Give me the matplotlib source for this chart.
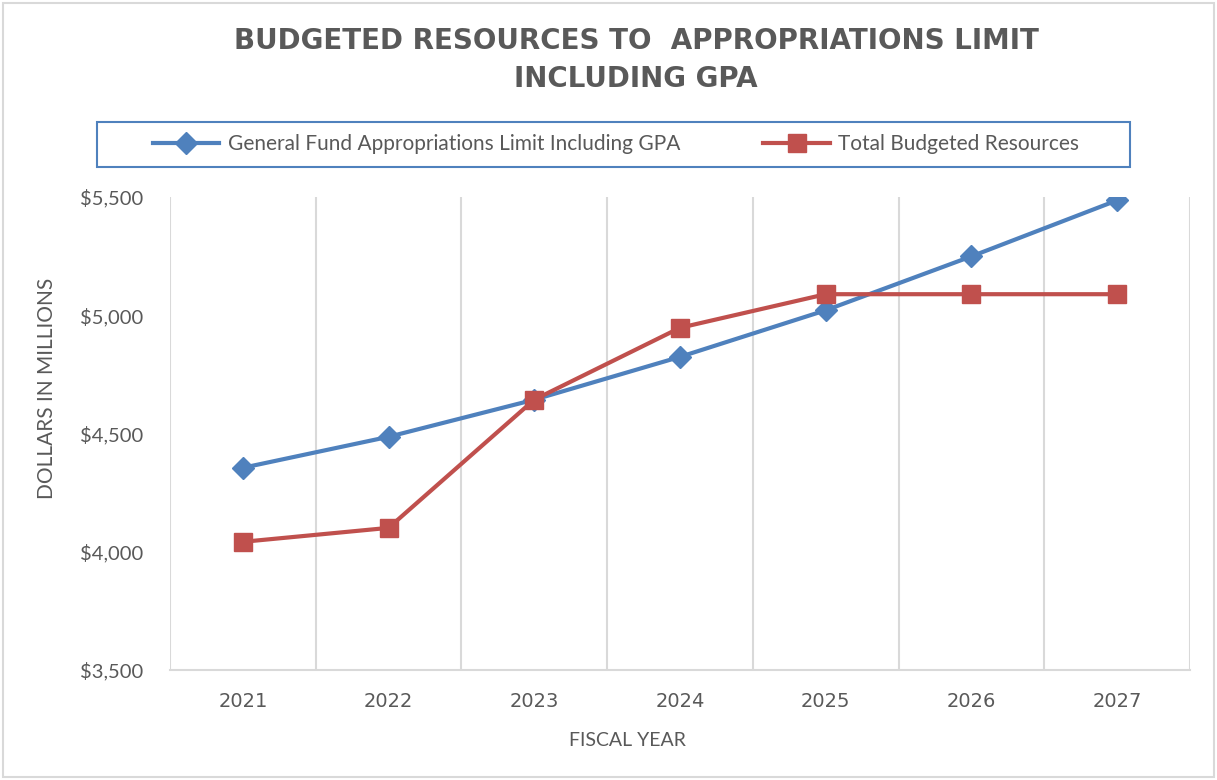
import matplotlib
matplotlib.use("Agg")
import matplotlib.pyplot as plt
from matplotlib.patches import Rectangle

years = ["2021", "2022", "2023", "2024", "2025", "2026", "2027"]
limit_gpa = [4355, 4486, 4643, 4824, 5021, 5249, 5486]
budgeted = [4042, 4101, 4643, 4947, 5089, 5089, 5089]
yticks = [3500, 4000, 4500, 5000, 5500]

blue = "#4F81BD"
red = "#C0504D"
grey_text = "#595959"
grid = "#D9D9D9"

fig = plt.figure(figsize=(12.17, 7.8), dpi=100)
ax = fig.add_axes([170/1217, 1-670/780, (1190-170)/1217, (670-197)/780])

x = list(range(len(years)))
ax.plot(x, limit_gpa, color=blue, lw=3.0, marker="D", ms=11,
        label="General Fund Appropriations Limit Including GPA")
ax.plot(x, budgeted, color=red, lw=3.0, marker="s", ms=12.5,
        label="Total Budgeted Resources")

ax.set_xlim(-0.5, len(years)-0.5)
ax.set_ylim(3500, 5500)
ax.set_yticks(yticks)
ax.set_yticklabels([f"${v:,}" for v in yticks], fontsize=14.5, color=grey_text, family="Lato")
ax.set_xticks(x)
ax.set_xticklabels(years, fontsize=14, color=grey_text, family="DejaVu Sans")
for b in [i + 0.5 for i in range(-1, len(years))]:
    ax.axvline(b, color=grid, lw=1.5, zorder=0)
ax.tick_params(length=0)
ax.tick_params(axis="x", pad=16)
ax.tick_params(axis="y", pad=19)
for s in ["top", "right", "left"]:
    ax.spines[s].set_visible(False)
ax.spines["bottom"].set_color(grid)
ax.spines["bottom"].set_linewidth(1.5)

ax.set_xlabel("FISCAL YEAR", fontsize=14, color=grey_text, family="Lato")
ax.xaxis.set_label_coords((627-170)/1020, (670-740)/473)
ax.xaxis.label.set_va("center")
ax.set_ylabel("DOLLARS IN MILLIONS", fontsize=15, color=grey_text, family="Lato")
ax.yaxis.set_label_coords((47-170)/1020, (670-388)/473)
ax.yaxis.label.set_va("center")

fig.text(636/1217, 1-41/780, "BUDGETED RESOURCES TO  APPROPRIATIONS LIMIT", ha="center", va="center",
         fontsize=20, fontweight="bold", color=grey_text, family="DejaVu Sans")
fig.text(636/1217, 1-79/780, "INCLUDING GPA", ha="center", va="center",
         fontsize=20, fontweight="bold", color=grey_text, family="DejaVu Sans")

leg = fig.legend(loc="center", bbox_to_anchor=(616/1217, 1-144/780), ncol=2, frameon=False,
                 handlelength=3.2, handletextpad=0.4,
                 columnspacing=4.0, borderpad=0.55,
                 prop={"family": "Lato", "size": 15})
for t in leg.get_texts():
    t.set_color(grey_text)

fig.patches.append(Rectangle((97/1217, 1-167/780), (1130-97)/1217, 45/780, transform=fig.transFigure,
                             fill=False, edgecolor=blue, lw=1.5))
fig.patches.append(Rectangle((3/1217, 3/780), 1-6/1217, 1-6/780, transform=fig.transFigure,
                             fill=False, edgecolor="#D9D9D9", lw=1.5))

fig.savefig("out.png", dpi=100)
